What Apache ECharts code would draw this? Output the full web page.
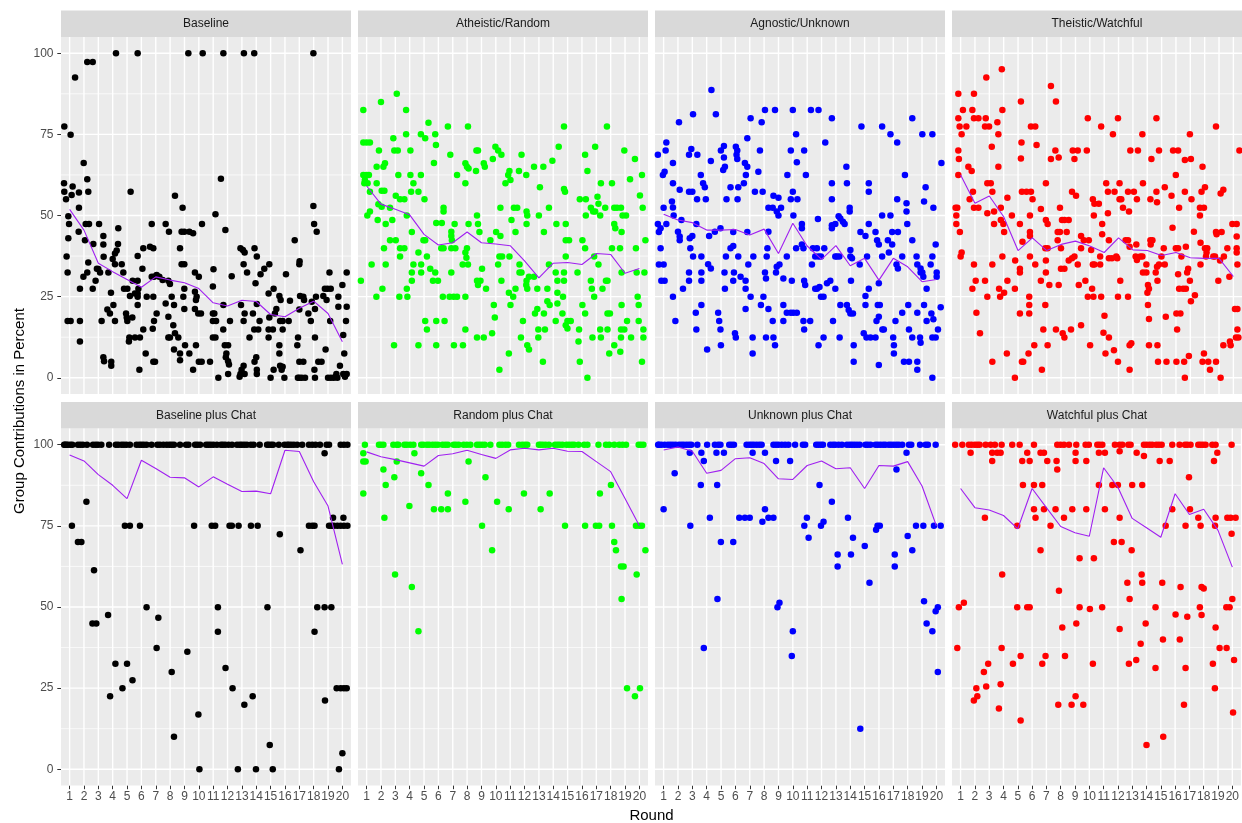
<!DOCTYPE html>
<html><head><meta charset="utf-8">
<script src="https://cdn.jsdelivr.net/npm/echarts@6/dist/echarts.min.js"></script>
<style>html,body{margin:0;padding:0;background:#fff}#c{width:1242px;height:823px}</style>
</head><body><div id="c"></div>
<script>
const rounds = [1,2,3,4,5,6,7,8,9,10,11,12,13,14,15,16,17,18,19,20];
const yTicks = [0,25,50,75,100];
const yMinor = [12.5,37.5,62.5,87.5];
const panelTitles = ['Baseline','Atheistic/Random','Agnostic/Unknown','Theistic/Watchful','Baseline plus Chat','Random plus Chat','Unknown plus Chat','Watchful plus Chat'];
const pointColors = ['#000000','#00ff00','#0000ff','#ff0000','#000000','#00ff00','#0000ff','#ff0000'];

const baselinePts = [[0.61,59.9],[0.63,57.3],[0.75,55],[1.21,58.9],[1.14,56.3],[0.63,77.4],[1.07,74.9],[1.38,92.5],[0.91,49.8],[0.96,47.4],[0.91,43],[0.79,37.4],[0.86,32.4],[0.86,17.5],[1.07,17.5],[1.72,17.5],[1.72,11.2],[1.65,52.4],[1.65,57.1],[1.63,45],[1.72,27.4],
[2.23,97.3],[2.61,97.3],[1.98,66.2],[2.23,61.2],[2.3,57.3],[2.12,47.4],[2.35,47.4],[2.07,42.4],[2.65,41.2],[2.3,35.5],[2.23,32.4],[1.96,31.1],[2.61,27.4],
[3.05,47.4],[3.0,33.5],[3.12,32.4],[2.9,33.6],[2.81,29.9],[3.23,17.5],[3.35,43.7],[3.35,41.1],[3.37,37.3],[3.35,6.3],[3.4,5.1],[3.7,32.4],
[4.23,100],[3.9,4.9],[3.9,3.7],[3.88,26.2],[3.63,21],[3.81,19.8],[4.05,22.4],[4.16,17.5],[4.0,36.6],[4.16,38.3],[4.28,39.2],[4.16,35],[4.39,46.1],[4.37,41.2],[4.63,35],[4.74,32.4],
[5.74,100],[5.25,57.3],[5.02,27.4],[4.79,27.4],[4.93,19.8],[4.98,18.6],[5.02,17.5],[5.16,12.4],[5.13,11.2],[5.2,25.2],[5.39,29.9],[5.37,18.6],[5.55,26],[5.74,29.9],[5.79,27.4],[5.74,26],[5.74,25],[5.74,37.5],[5.74,22.4],[5.55,12.4],[5.9,12.4],[5.86,2.5],[6.07,33.6],[6.13,39.9],
[6.13,14.9],[6.3,7.5],[6.37,25],[6.72,47.4],[6.6,40.4],[6.83,39.9],[6.83,25],[6.88,17.5],[6.79,15.1],[6.83,4.9],[6.95,4.9],[6.72,31.1],[6.88,31.1],[7.06,31.7],[7.06,19.8],
[7.25,31.1],[7.48,30.1],[7.69,47.4],[7.92,45],[7.69,22.9],[7.88,18.8],[7.88,12.4],[7.99,12.4],[7.99,28.9],[7.88,29.9],
[8.34,56.1],[8.11,25],[8.22,16.2],[8.27,22.4],[8.34,13.7],[8.57,12.4],[8.27,8.7],[8.69,7.5],[8.69,5.4],[8.69,39.9],[8.87,52.4],[8.8,45],[8.99,45],[8.8,35],[8.99,35],[8.92,25],[8.99,27.4],[8.99,21.2],[9.04,10],
[9.27,100],[9.34,45],[9.6,44.5],[9.34,7.5],[9.6,2.5],[9.8,10],[9.73,32.4],[10.0,31.1],[9.73,26.5],[9.85,25],[9.8,24],[9.73,21.2],[9.96,19.8],[10.15,19.8],[10.0,4.9],[10.2,4.9],
[10.27,100],[10.22,47.4],[10.78,4.9],[10.98,19.8],[11.08,19.8],[10.98,17.5],[11.2,17.5],[10.98,28.1],[11.02,33.4],[11.16,50.4],[10.98,12.4],[11.16,12.4],[11.36,0],[11.54,61.3],[11.85,45.5],[11.7,14.9],
[11.71,22.4],[11.81,10],[12.04,10],[11.92,7.5],[12.04,5.1],[12.1,4.1],[11.88,6.3],[12.04,1.2],[12.29,31.3],[12.17,17.5],
[11.71,100],[12.9,39.9],[13.07,39.4],[13.19,38.6],[13.12,35],[13.36,32.4],[12.94,22.4],[13.19,19.8],[13.12,17.5],[13.53,12.4],[13.12,3.7],[12.98,2.5],[12.9,1.2],[13.19,1.2],[12.84,0.3],[13.14,100],[13.86,100],
[13.77,19.8],[13.88,39.9],[14.04,37.4],[13.95,29.1],[14.04,22.7],[13.86,14.9],[14.14,14.9],[14.0,6.3],[13.88,4.9],[14.04,2.5],[14.04,1.2],[14.3,31.9],[14.23,17.5],
[14.56,33.6],[14.91,35],[14.86,26],[14.86,12.4],[14.86,14.9],[14.91,18.6],[15.0,0],[15.21,27.4],[15.21,2.5],[15.16,14.9],[15.4,21.2],[15.3,19.8],
[15.61,25.2],[15.7,24],[15.61,10],[15.61,7.5],[15.66,3.7],[15.77,2.5],[15.84,3.4],[15.66,17.5],[15.84,17.5],[15.84,14.9],[15.96,0],[16.07,31.9],[16.26,17.5],[16.35,23.7],
[16.68,42.4],[17.0,35],[17.02,35.9],[16.86,10],[16.91,12.4],[17.0,4.9],[17.28,4.9],[16.9,0],[17.17,0],[17.4,0],[17.0,0],[17.05,25.2],[17.28,25],[17.0,21],[17.33,24],
[17.63,19.8],[17.8,17.5],[17.87,23.4],[17.98,52.9],[18.03,47.4],[18.21,45],[18.09,12.4],[18.09,21.2],[18.16,25],[18.05,2.5],[18.09,0],[18.32,4.9],[18.55,4.9],
[17.98,100],[18.67,25.2],[18.9,24],[18.78,27.4],[18.97,27.4],[18.83,8.7],[19.0,0],[19.2,0],[19.4,0],[19.1,32.4],[19.19,27.4],[19.15,17.5],[19.58,1.2],[19.65,0],[19.53,0.3],[19.72,25],[19.72,21.9],[20.0,28.6],[20.06,13.2],[20.13,7.5],[19.83,3.7],[20.06,1.2],[20.18,0.3],[20.3,32.4],[20.3,21.9],[20.25,17.5],[20.3,1.2]];

const atheisticPts = [[0.77,82.5],[0.77,72.5],[1.0,72.5],[1.23,72.5],[0.77,62.5],[1.0,62.5],[1.16,62.5],[0.84,59.9],[1.07,59.9],[0.88,60.9],[1.23,57.3],[0.6,29.9],[1.05,50],[1.23,51.2],[1.7,65],[2.17,65],[2.28,66.1],[1.86,70],[1.7,59.9],[1.82,53.5],[2.05,52.7],[1.77,48.6],[2.05,57.6],[2.24,57.6],[2.33,47.4],[2.21,39.9],[2.33,34.9],[1.35,34.9],[1.68,25],[2.1,27.4],[2.0,85],
[2.63,52.4],[2.79,48.6],[2.63,42.4],[3.03,42.4],[2.91,10],[2.86,73.8],[2.93,70],[3.17,70],[3.21,62.5],[3.03,56.1],[3.33,55],[3.63,55],[3.1,87.5],[3.33,39.9],[3.63,39.9],[3.33,37.4],[3.28,25],[3.84,25],[3.8,27.4],[3.75,82.5],[3.75,75],
[4.05,70],[4.05,62.5],[4.26,59.9],[4.1,57.3],[4.61,57.3],[3.8,50],[4.15,44.9],[4.26,34.9],[4.15,32.4],[4.15,29.9],[4.61,38.6],[4.61,10],[4.8,34.9],[4.8,32.4],[4.78,75],[5.08,73.8],[4.78,62.5],[5.03,55],[5.08,42.4],[4.96,42.4],[5.2,37.4],[5.08,17.5],[5.2,14.9],[5.43,33.6],[5.31,78.6],
[5.78,75],[5.83,71.7],[5.69,66.2],[5.62,29.9],[5.97,29.9],[5.78,32.4],[5.85,17.5],[5.85,10],[5.85,47.7],[6.24,47.7],[6.36,52.4],[6.36,51.2],[6.2,39.9],[6.36,39.9],[6.31,25],[6.43,17.5],[6.66,77.4],[6.83,68.7],[6.9,45],[6.9,43.7],[6.94,42.4],[6.9,39.9],[7.18,39.9],[7.13,47.4],[6.78,25],[7.06,25],[7.3,25],[6.9,32.4],[7.08,10],[7.3,62.5],
[7.88,38.6],[7.99,39.9],[7.95,37],[7.69,34.9],[8.06,34.9],[7.88,25],[7.88,14.9],[7.71,10],[8.06,77.4],[7.88,66.1],[7.99,65],[8.1,64.5],[7.88,59.9],[8.1,47.4],
[8.65,70],[8.76,70],[8.62,63.7],[8.69,50],[8.76,47.4],[8.86,44.9],[8.69,29.9],[8.93,29.9],[8.76,28.6],[9.04,33.6],[9.32,27.4],[8.69,12.4],[9.16,12.4],[9.16,66.1],[9.23,65],[9.62,42.4],[9.74,13.7],[9.86,22.4],[9.93,18.6],
[9.97,71.2],[10.16,70],[10.39,68.7],[9.79,67.4],[10.02,44.9],[10.32,43.7],[10.16,34.9],[10.25,37.4],[10.44,37.4],[10.39,29.9],[10.32,52.4],[10.25,2.5],[10.67,59.9],[10.86,62.5],[10.95,63.7],[11.02,60.9],[10.95,37.4],[10.91,26.2],[11.02,22.4],[11.21,25],[10.91,7.5],[11.09,48.6],
[11.26,52.4],[11.49,52.4],[11.37,44.9],[11.65,34.9],[11.65,32.4],[11.79,32.4],[11.37,27.4],[11.61,63.7],[11.79,68.7],[11.75,12.4],[11.89,17.5],[12.12,62.5],[12.14,51.2],[12.19,50],[12.14,47.4],[12.14,29.9],[12.12,28.6],[12.19,27.4],[12.31,31.1],[12.19,10],[12.31,8.7],
[12.66,65],[12.66,31.1],[12.73,19.8],[12.89,21.2],[12.96,14.9],[12.96,12.4],[12.89,27.4],[13.07,58.7],[13.0,50],[13.31,65],[13.35,44.9],[13.28,4.9],[13.35,19.8],[13.42,14.9],[13.59,27.4],[13.59,23.6],[13.75,22.4],[13.7,52.4],[13.7,34.9],[13.94,66.9],
[14.17,32.4],[14.29,29.9],[14.29,26.2],[14.29,22.9],[14.17,17.5],[14.38,71.2],[14.22,47.4],[14.64,19.8],[14.75,77.4],[14.75,58.2],[14.82,57.3],[14.75,32.4],[14.75,29.9],[14.87,47.4],[14.87,42.4],[15.1,42.4],[14.87,37.4],[14.68,25],[14.99,17.5],[15.22,17.5],[14.87,16.2],[14.99,15.2],
[15.69,32.4],[15.85,55],[15.8,14.9],[15.76,11.2],[15.85,4.9],[16.03,42.4],[16.22,39.9],[16.03,22.4],[16.22,19.8],[16.27,55],[16.22,68.7],[16.38,63.7],[16.27,50],[16.38,0],[16.62,29.9],[16.69,27.4],[16.85,25],[16.62,52.4],[16.78,51.2],[16.92,51.2],[16.73,12.4],[16.92,71.2],[16.85,37.4],
[17.08,55.8],[17.15,53.6],[17.27,50],[17.32,59.9],[17.15,34.9],[17.27,14.9],[17.32,12.4],[17.43,27.4],[17.67,29.9],[17.78,29.9],[17.62,52.4],[17.74,77.4],[17.78,19.8],[17.95,19.8],[17.9,7.5],[17.78,14.9],
[18.09,59.9],[18.09,39.9],[18.25,52.4],[18.44,52.4],[18.72,52.4],[18.25,47.4],[18.32,46.1],[18.76,44.9],[18.25,10],[18.65,39.9],[18.67,8],[18.76,32.4],[18.76,22.4],[18.72,14.9],[18.95,14.9],[18.72,12.4],[18.83,50],[19.07,50],[18.95,70],[19.14,17.5],[19.35,61.2],[19.42,12.4],[19.69,67.4],[19.76,39.9],[19.81,32.4],[19.88,25],[19.95,22.4],[19.95,17.5],[20.04,56.2],[20.23,52.4],[20.18,62.5],[20.28,14.9],[20.28,12.4],[20.18,4.9],[20.35,32.4],[20.42,42.4]];

const agnosticPts = [[0.6,68.7],[1.19,72.5],[1.14,70],[0.95,62.5],[1.07,63.5],[1.65,66.2],[2.07,78.7],[1.65,59.9],[1.0,52.4],[1.58,54.3],[1.65,52.5],[1.7,50],[0.6,47.4],[1.19,47.4],[0.79,46.1],[0.67,44.9],[0.79,39.9],[0.67,34.9],[1.0,34.9],[0.84,29.9],[1.07,29.9],[1.65,25],[1.82,17.5],
[2.0,45],[2.12,43.5],[2.12,42.4],[2.24,48.6],[2.12,57.9],[2.35,27.4],[2.77,32.4],[2.77,29.9],[2.86,39.9],[3.05,37.4],[2.82,43],[3.0,43.7],[2.77,57.3],[3.0,57.3],[2.77,68.7],[2.93,70.5],[3.35,68.7],[3.05,81.2],[3.28,47.4],[3.33,55],[3.24,20],[3.28,14.9],
[3.59,62.5],[3.63,37.4],[3.63,32.4],[3.63,29.9],[3.63,22.4],[3.75,59.9],[3.87,58.7],[3.94,55],[4.03,8.7],[4.1,35],[4.29,33.7],[4.17,43.7],[4.33,88.7],[4.29,66.8],[4.57,45],[4.96,46.1],[4.64,81.2],[4.8,20],[4.87,17.5],[4.96,14.9],[4.99,10],
[4.99,70],[5.2,71.4],[5.2,67.9],[5.15,64],[5.27,65],[5.24,32.4],[5.27,27.4],[5.38,55],[5.34,37.4],[5.66,58.7],[5.66,39.9],[5.85,40.6],[5.85,44.9],[5.9,32.4],[5.85,29.9],[5.97,13.7],[6.03,12.4],[6.03,71.2],[6.13,70],[6.08,68.7],[6.13,67.4],[6.2,58.7],[6.15,55],[6.2,37.4],[6.36,31.1],
[6.59,59.9],[6.66,66.2],[6.83,65],[6.73,62.5],[6.83,73.8],[6.83,44.9],[6.9,34.9],[6.71,29.9],[6.71,27.4],[6.71,21.2],[7.06,25],[7.06,80],[7.2,12.4],[7.2,7.5],[7.25,37.4],[7.36,57.3],[7.6,63.5],[7.83,78.7],[7.71,70],[7.9,57.3],[7.95,25],[7.78,22.4],
[8.06,82.5],[8.06,32.4],[8.13,30.6],[8.18,37.4],[8.23,39.9],[8.3,45],[8.13,12.4],[8.65,12.4],[8.3,21.2],[8.6,17.5],[8.3,52.4],[8.6,52.4],[8.65,56.1],[9.0,55.5],[8.76,82.5],[8.76,10],[8.88,51.2],[9.0,50],[9.18,52.4],[8.88,34.2],[8.83,32.4],[9.07,34.9],[9.34,30.6],[9.34,22.4],[9.34,17.5],
[9.58,20],[9.86,20],[10.04,20],[10.28,20],[9.58,37.4],[9.62,62.5],[9.86,55],[10.0,57.3],[9.86,70],[9.93,29.9],[10.0,82.5],[10.23,75],[10.28,66.4],[10.32,55],[10.04,50],[10.23,39.9],
[10.63,47.4],[10.63,46.1],[10.63,41.1],[10.74,39.9],[10.79,70],[10.91,62.5],[10.79,29.9],[10.86,28.6],[10.74,17.5],[11.21,17.5],[10.79,14.9],[11.26,82.5],[11.79,82.5],[11.4,39.9],[11.68,39.9],[11.79,37.4],[11.96,37.4],[11.56,37.4],[11.33,34.9],[11.68,27.4],[11.86,28],[11.96,25],[12.14,25],[11.56,27.4],[11.75,48.9],[11.79,10],
[12.14,12.4],[12.26,72.5],[12.19,39.9],[12.38,29.1],[12.61,29.9],[12.72,80],[12.72,59.9],[12.72,55],[12.72,46.1],[12.72,47],[12.96,47.4],[12.96,37.4],[13.07,37.4],[13.24,37.4],[12.96,27.4],[12.8,17.5],[13.26,12.4],[13.31,22.4],
[13.19,49.8],[13.31,49.1],[13.49,48.1],[13.61,47.4],[13.73,65],[13.77,59.9],[13.77,22.4],[13.89,20.9],[14.01,19.8],[14.19,19.8],[13.96,52.4],[13.96,51.2],[14.01,37.4],[14.12,36.8],[14.01,39.4],[14.05,29.9],[14.24,10],[14.24,4.9],
[14.66,34.9],[14.78,77.4],[14.71,44.9],[14.94,13.7],[15.06,43.7],[15.06,25.2],[15.06,22.4],[15.13,12.4],[15.41,12.4],[15.76,12.4],[15.17,37.4],[15.29,59.9],[15.29,57.3],[15.29,47.4],[15.29,27.4],
[15.76,44.9],[15.87,42.4],[15.99,41.1],[15.83,17.5],[15.99,18.8],[15.99,3.9],[15.92,22.4],[16.06,22.4],[15.99,29.1],[16.22,77.4],[16.22,50],[16.22,37.4],[16.34,14.9],[16.24,14.9],
[16.62,42.4],[16.69,38.6],[16.8,75],[16.8,50],[16.92,44.9],[16.92,41.1],[16.99,12.4],[17.04,10],[17.04,7.5],[17.15,17.5],[17.27,72.5],[17.27,55],[17.22,34.9],[17.32,33.7],[17.32,44.9],[17.62,20],[17.62,37.4],[17.81,62.5],[17.92,53.8],[17.92,51.2],[17.97,47.4],[18.04,22.4],[18.09,14.9],[18.32,12.4],[18.32,42.4],[18.32,80],[17.74,4.9],[18.09,4.9],[18.67,4.9],
[18.62,37.4],[18.67,34.9],[18.9,33.7],[18.67,2.5],[18.9,32.4],[19.02,32.4],[19.09,31.1],[18.67,20],[18.86,12.4],[18.9,10.8],[19.02,75],[19.72,75],[19.14,54.3],[19.25,58.7],[19.32,27.4],[19.14,22.4],[19.32,17.5],[19.6,34.9],[19.72,37.4],[19.65,19.8],[19.79,18],[19.79,52.4],[19.72,12.4],[19.95,12.4],[19.72,0],[19.95,41.1],[20.02,32.4],[20.02,31.1],[20.11,14.9],[20.3,21.7],[20.35,66.2]];

const theisticPts = [[0.84,87.5],[0.84,80],[0.93,77.4],[1.07,75],[1.16,82.5],[1.4,77.4],[0.84,70],[0.88,67.4],[0.84,62.5],[0.65,52.4],[0.77,52.4],[0.7,50],[0.7,47.4],[0.95,44.9],[1.07,38.6],[1.0,37.4],
[1.54,65],[1.77,63.7],[1.63,55],[1.86,57.3],[1.93,87.5],[1.82,82.5],[1.93,80],[2.24,80],[1.93,52.4],[2.24,52.4],[1.93,34.9],[2.05,29.9],[1.82,27.4],[2.1,20],[2.35,13.7],
[2.75,80],[2.7,77.4],[2.98,77.4],[2.79,92.5],[2.86,59.9],[3.1,59.9],[3.21,57.3],[3.17,71.2],[2.86,50.7],[3.33,51.2],[3.33,47.4],[3.21,34.9],[2.7,29.9],[2.86,25],[3.21,4.9],
[3.56,78.7],[3.63,75],[3.63,65],[3.91,82.5],[3.87,95.1],[3.8,52.4],[3.8,48.6],[3.98,47.4],[4.03,44.9],[3.91,37.4],[3.68,27.4],[3.75,25],[4.03,26.2],[4.26,29.9],[4.26,55.5],[4.22,7.5],
[4.57,50],[4.78,27.4],[4.78,0],[4.8,36.1],[5.13,33.6],[5.13,32.4],[5.2,67.6],[5.13,47.4],[5.2,85.1],[5.24,72.5],[5.27,57.3],[5.31,41.9],[5.13,19.8],[5.27,4.9],[5.36,4.9],
[5.59,57.3],[5.9,57.3],[6.01,55],[5.78,25],[5.78,22.4],[5.78,19.8],[5.9,77.4],[6.2,77.4],[5.83,50],[5.83,44.9],[5.83,43.7],[5.83,37.4],[5.73,7.5],[6.13,10],[6.2,34.9],[6.29,71.7],
[6.59,52],[6.59,29.9],[6.66,2.5],[6.76,14.9],[6.94,59.9],[6.9,22.4],[6.94,48.6],[7.06,47.4],[6.9,39.9],[7.06,39.9],[6.94,36.1],[6.94,32.4],[7.06,10],[7.29,89.9],[7.29,67.4],[7.64,85.1],[7.6,70],[7.83,67.9],[7.18,28.6],[7.64,14.9],[7.76,42.4],[7.92,44.9],[7.76,44.9],[7.83,28.6],[7.92,52.4],
[7.99,33.6],[8.23,33.6],[7.99,39.9],[8.06,48.6],[8.23,48.6],[8.11,13.7],[8.23,12.4],[8.39,44.9],[8.53,48.6],[8.53,36.1],[8.76,36.8],[8.93,37.4],[8.69,14.9],[8.81,70],[9.16,70],[8.93,67.4],[8.76,57.3],[9.04,56.1],[9.16,34.9],[9.23,28.6],[9.39,43.7],[9.39,39.9],[9.39,16.2],[9.58,42.4],[9.69,29.9],
[9.86,80],[9.79,70],[9.93,42.4],[10.09,39.4],[10.02,10],[10.16,27.4],[10.25,25],[9.86,25],[10.21,55],[10.32,53.6],[10.28,50],[10.21,34.9],[10.32,34.9],[10.63,53.6],[10.72,37.4],[10.72,34.9],[10.79,25],[10.86,44.2],[10.86,47.4],[10.79,77.4],[10.95,13.9],[11.33,12.4],[11.02,19.1],[11.09,7.5],
[11.14,59.9],[11.26,57.3],[11.72,57.3],[11.26,50.7],[11.33,42.4],[11.33,36.8],[11.54,36.8],[11.84,37.4],[11.91,36.8],[11.61,75],[11.68,8.5],[11.96,80],[12.07,59.9],[12.07,55],[12.19,55],[11.96,25],[11.96,4.9],[12.12,29.9],[12.31,52.4],[12.49,42.4],[12.66,42.4],[12.77,40.4],[12.73,51.2],[12.66,57.3],[12.66,25],[12.82,70],[12.77,10],[12.89,10.6],[12.77,2.5],
[13.07,57.3],[13.24,41.1],[13.19,37.4],[13.28,36.3],[13.52,37.4],[13.66,37.4],[13.28,55],[13.35,70],[13.66,75],[13.7,59.9],[13.7,32.4],[13.94,32.4],[14.01,26.2],[14.05,28.6],[14.12,27.4],[13.94,34.9],[14.05,22.4],[14.12,18.1],[14.12,10],[14.71,10],[14.22,42.4],[14.36,42.4],[14.24,41.1],[14.22,55],[14.29,67.4],
[14.64,80],[14.64,57.3],[14.68,54.1],[14.68,34.2],[14.82,34.9],[14.59,32.4],[14.71,29.9],[14.75,4.9],[14.82,70],[14.99,37.4],[15.15,39.9],[15.22,34.9],[15.22,58.7],[15.29,18.8],[15.34,4.9],[16.03,4.9],
[15.69,56.1],[15.76,46.2],[15.8,70],[16.15,70],[15.99,62.5],[15.99,39.9],[16.15,39.9],[16.22,52.4],[16.03,19.8],[16.31,19.8],[16.08,14.9],[16.15,31.9],[16.22,27.4],[16.5,27.4],[16.69,27.4],[16.38,37.4],[16.57,4.9],[16.9,6.7],[16.62,0],[16.62,67.1],[17.04,67.4],[16.62,57.3],[16.69,40.4],[16.85,33.6],[16.78,32.4],[16.97,75],[17.08,55],[16.97,29.9],[17.04,23.6],[17.32,25.4],[17.25,45],
[17.67,50],[17.67,52.4],[17.95,52.4],[17.71,34.9],[17.71,41.6],[17.85,65],[17.78,57.3],[18.02,58.7],[18.02,39.9],[18.13,38.6],[18.18,39.9],[18.09,37.4],[17.95,7.5],[17.85,4.9],[18.25,4.9],[18.79,4.9],[18.37,2.5],[18.6,37.4],[18.72,37.4],
[18.79,77.4],[18.79,44.9],[18.83,44.2],[19.18,44.9],[18.95,29.9],[19.11,0],[19.11,56.8],[19.3,57.9],[19.07,36.1],[19.3,10],[19.34,37.4],[19.58,39.9],[19.76,11.2],[19.81,10],[19.72,31.1],[19.93,47.4],[20.23,47.4],[20.23,43.5],[20.23,39.9],[20.23,38.6],[20.28,34.9],[20.11,21.2],[20.28,21.2],[20.28,14.9],[20.18,12.4],[20.35,12.4],[20.42,70]];

const baselineChatPts = [[0.62,100],[0.68,100],[0.77,100],[0.88,100],[1.05,100],[1.19,100],[1.58,100],[1.75,100],[1.93,100],[2.21,100],[2.63,100],[2.82,100],[2.98,100],[3.21,100],[3.75,100],[4.22,100],[4.38,100],[4.61,100],[4.78,100],[4.96,100],[5.2,100],[5.66,100],[5.85,100],[6.01,100],[6.17,100],[6.36,100],[6.71,100],[7.11,100],[7.29,100],[7.53,100],[7.76,100],[7.95,100],[8.11,100],[8.27,100],[8.69,100],[9.11,100],[9.28,100],[9.74,100],[9.9,100],[10.09,100],[10.51,100],[10.67,100],[10.84,100],[11.02,100],[11.26,100],[11.54,100],[11.68,100],[11.84,100],[12.07,100],[12.31,100],[12.66,100],[12.85,100],[13.0,100],[13.17,100],[13.35,100],[13.63,100],[13.82,100],[14.24,100],[14.75,100],[14.87,100],[15.03,100],[15.17,100],[15.57,100],[15.97,100],[16.15,100],[16.27,100],[16.43,100],[16.62,100],[16.85,100],[17.2,100],[17.67,100],[17.9,100],[18.13,100],[18.44,100],[18.9,100],[19.07,100],[19.88,100],[20.11,100],[20.35,100],
[1.16,75],[1.58,70],[1.82,70],[2.17,82.4],[2.59,44.9],[2.86,44.9],[2.7,61.3],[3.68,47.5],[3.82,22.5],[4.19,32.5],[4.68,25],[4.85,75],[5.2,75],[5.0,32.5],[5.38,27.4],[5.9,75],[6.36,49.9],[7.18,46.7],[7.06,37.4],[8.11,30],[8.27,10],[9.2,36.2],[9.67,75],[9.97,16.9],[10.04,0],[10.9,75],[11.14,75],[11.33,49.9],[11.33,42.4],[11.86,31.2],[12.14,75],[12.3,75],[12.35,25],[12.72,0],[12.77,75],[13.17,19.9],[13.63,75],[14.1,75],[13.75,22.5],[13.98,0],[14.78,49.9],[14.94,7.5],[15.15,0],[15.64,72.4],[17.08,67.5],[17.67,75],[17.9,75],[18.06,75],[18.06,42.4],[18.25,49.9],[18.76,49.9],[19.23,49.9],[18.76,97.4],[18.79,21.2],[19.07,75],[19.23,75],[19.41,75],[19.65,75],[19.88,75],[20.11,75],[20.35,75],[19.35,77.5],[20.07,77.5],[19.6,25],[19.88,25],[20.11,25],[20.3,25],[19.76,0],[20.0,4.9]];

const randomChatPts = [[0.88,100],[1.86,100],[2.0,100],[2.17,100],[2.86,100],[3.1,100],[3.21,100],[3.63,100],[3.8,100],[4.03,100],[4.26,100],[4.8,100],[4.96,100],[5.2,100],[5.36,100],[5.59,100],[5.78,100],[5.97,100],[6.29,100],[6.48,100],[6.66,100],[7.06,100],[7.22,100],[7.41,100],[7.76,100],[7.99,100],[8.23,100],[8.69,100],[8.86,100],[9.04,100],[9.23,100],[9.62,100],[10.25,100],[10.44,100],[10.67,100],[10.86,100],[11.61,100],[11.84,100],[12.03,100],[12.19,100],[13.0,100],[13.12,100],[13.28,100],[13.47,100],[13.7,100],[14.12,100],[14.29,100],[14.45,100],[14.64,100],[14.92,100],[15.1,100],[15.29,100],[15.45,100],[15.76,100],[16.15,100],[16.38,100],[17.15,100],[17.67,100],[17.9,100],[18.25,100],[18.6,100],[18.83,100],[19.07,100],[19.95,100],[20.11,100],[20.28,100],
[0.77,97.4],[0.77,94.8],[0.93,94.8],[0.77,85],[2.17,92.4],[2.33,87.6],[2.24,77.5],[3.1,94.8],[2.93,90],[2.98,60],[4.33,97.4],[3.98,81.1],[4.15,56.2],[4.61,42.5],[4.8,91.2],[5.31,87.6],[5.69,80.1],[6.2,80.1],[6.66,80.1],[6.66,85],[7.88,82.4],[8.1,94.8],[9.04,75],[9.28,90],[9.74,67.5],[10.09,82.4],[10.9,80.1],[11.96,85],[13.12,80.1],[13.75,85],[14.82,75],[16.22,75],[16.97,75],[17.2,75],[17.25,85],[18.02,87.6],[18.09,75],[18.25,70],[18.37,67.5],[18.72,62.5],[18.9,62.5],[18.76,52.5],[19.14,25],[19.69,22.5],[20.04,25],[19.81,60],[19.76,75],[20.0,75],[20.18,75],[20.42,67.5]];

const unknownChatPts = [[0.62,100],[0.67,100],[0.84,100],[1.07,100],[1.3,100],[1.47,100],[1.65,100],[1.84,100],[2.07,100],[2.24,100],[2.4,100],[2.59,100],[2.77,100],[2.93,100],[3.35,100],[4.03,100],[4.57,100],[4.8,100],[4.96,100],[5.57,100],[5.73,100],[5.9,100],[6.78,100],[6.97,100],[7.13,100],[7.29,100],[7.48,100],[7.67,100],[7.83,100],[8.65,100],[8.83,100],[9.0,100],[9.23,100],[9.46,100],[9.69,100],[10.16,100],[10.7,100],[10.86,100],[11.63,100],[11.79,100],[11.96,100],[12.1,100],[12.61,100],[12.8,100],[12.96,100],[13.19,100],[13.42,100],[13.77,100],[13.96,100],[14.12,100],[14.29,100],[14.47,100],[14.66,100],[15.06,100],[15.22,100],[15.41,100],[15.76,100],[15.92,100],[16.1,100],[16.29,100],[16.45,100],[16.69,100],[16.85,100],[17.04,100],[17.22,100],[17.39,100],[17.62,100],[18.09,100],[18.25,100],[18.86,100],[19.25,100],[19.41,100],[19.95,100],
[1.0,80.1],[1.77,91.2],[2.82,97.5],[2.86,75],[3.63,97.5],[3.8,95],[3.59,87.6],[4.22,77.5],[3.8,37.4],[4.68,97.5],[5.2,97.5],[4.73,87.6],[4.99,70],[4.75,52.5],[5.85,70],[6.27,77.5],[6.66,77.5],[7.0,77.5],[7.2,97.5],[8.06,97.5],[8.06,80.1],[7.88,76.3],[8.3,77.5],[8.65,77.5],[8.83,95],[8.93,49.9],[9.07,51.3],[9.81,95],[10.0,42.5],[9.93,34.9],[10.8,75],[10.98,77.5],[11.1,71.3],[11.86,87.6],[11.96,75],[12.14,76.3],[12.72,82.4],[13.12,66.2],[13.12,62.5],[13.84,77.5],[14.19,71.3],[14.05,66.2],[14.7,12.5],[15.01,68.8],[15.34,57.5],[15.8,73.8],[15.9,75],[16.06,75],[17.22,92.4],[17.1,66.2],[17.1,62.5],[17.92,97.5],[18.0,71.9],[18.32,67.5],[18.58,75],[19.09,75],[19.14,51.8],[19.32,44.9],[19.72,42.5],[19.83,75],[20.3,75],[19.95,48.7],[20.1,49.9],[20.1,30]];

const watchfulChatPts = [[0.62,100],[1.12,100],[1.58,100],[1.77,100],[2.0,100],[2.17,100],[2.33,100],[2.75,100],[3.1,100],[3.4,100],[3.87,100],[4.61,100],[5.13,100],[6.13,100],[7.76,100],[7.99,100],[8.23,100],[8.58,100],[9.09,100],[9.74,100],[9.97,100],[10.56,100],[10.72,100],[10.91,100],[11.79,100],[12.12,100],[12.31,100],[12.73,100],[12.89,100],[13.82,100],[14.01,100],[14.22,100],[14.4,100],[14.68,100],[14.87,100],[15.06,100],[15.8,100],[16.31,100],[16.69,100],[16.85,100],[17.08,100],[17.62,100],[17.78,100],[17.95,100],[18.13,100],[18.6,100],[18.83,100],[19.95,100],
[1.7,97.5],[3.21,97.5],[3.56,97.5],[3.8,97.5],[3.21,95],[5.66,97.5],[5.31,95],[5.83,95],[5.36,87.6],[6.13,87.6],[6.71,87.6],[6.59,97.5],[6.83,97.5],[7.06,95],[7.71,95],[7.76,92.4],[6.13,80.1],[7.64,80.1],[6.83,80.1],[6.24,77.5],[7.29,75],[6.59,67.5],[4.96,75],[2.7,77.5],[8.23,77.5],[8.81,80.1],[9.04,97.5],[9.04,95],[9.79,95],[9.79,80.1],[9.32,65],[10.32,65],[10.67,97.5],[11.09,97.5],[10.67,87.6],[11.61,87.6],[12.0,87.6],[11.09,80.1],[11.72,70],[12.26,70],[12.12,77.5],[12.12,98],[12.96,67.5],[13.0,87.6],[13.7,87.6],[13.31,97.5],[13.82,96.5],[14.92,95],[15.62,95],[15.34,75],[15.8,80.1],[16.73,75],[16.97,90],[17.04,80.1],[17.62,77.5],[17.78,75],[18.72,95],[18.95,97.5],[18.83,77.5],[18.79,75],[19.65,77.5],[19.88,77.5],[20.23,77.5],[19.95,72.6],
[0.88,49.9],[1.23,51.3],[0.77,37.4],[1.93,21.2],[2.17,22.5],[2.1,25],[2.63,30],[2.93,32.5],[2.79,25.5],[3.68,18.7],[3.8,26.2],[3.87,37.4],[3.91,60],[4.66,32.5],[4.96,49.9],[5.2,34.9],[5.2,15],[5.66,49.9],[5.83,49.9],[6.71,32.5],[6.94,34.9],[7.83,19.9],[7.88,55],[8.11,43.7],[8.3,34.9],[8.76,19.9],[9.04,22.5],[9.09,44.9],[9.32,49.9],[9.58,19.9],[10.04,49.4],[10.25,32.5],[10.9,49.9],[12.12,43.2],[12.66,57.5],[12.82,52.5],[12.77,32.5],[13.28,33.7],[13.66,60],[13.7,57.5],[13.59,38.7],[13.94,44.9],[14.0,7.5],[14.63,49.9],[14.63,31.2],[15.1,57.5],[15.15,40],[15.17,10],[16.03,47.7],[16.33,40],[16.38,56.2],[16.62,19.9],[16.73,31.2],[16.85,47],[17.73,49.9],[17.85,47.5],[17.85,56.2],[18.0,55.7],[18.64,32.5],[18.78,25],[18.83,43.7],[19.11,37.4],[19.6,37.4],[19.58,49.9],[19.81,49.9],[20.0,52.5],[20.12,33.7],[20.05,17.5]];

const baselineMean     = [51.9,45.5,35.3,32.7,30.3,27.9,31.1,30.1,29.3,27.5,23.1,22.1,23.9,23.5,19.5,18.8,21.4,23.6,19.8,11.1];
const atheisticMean    = [59.1,53.5,51.9,50.2,44.2,40.9,41.6,44.9,41.6,41.2,40.7,36.0,30.8,35.3,35.5,34.9,38.3,38.0,32.2,33.7];
const agnosticMean     = [50.4,48.6,47.8,45.5,45.5,45.7,44.0,45.8,38.3,47.6,40.6,36.5,40.7,34.5,36.8,30.1,36.8,34.2,29.6,30.3];
const theisticMean     = [62.5,53.8,56.0,49.6,39.2,43.1,39.2,41.1,42.1,40.6,38.6,43.1,39.4,39.2,37.7,38.6,37.0,36.8,36.8,31.2];
const baselineChatMean = [96.8,95.0,90.8,87.5,83.4,95.2,92.7,90.0,89.8,87.0,90.1,87.8,85.6,85.7,84.9,98.3,97.9,88.6,81.1,63.1];
const randomChatMean   = [97.8,96.3,95.4,94.4,93.4,96.7,97.2,98.3,97.0,95.8,98.4,98.9,98.4,98.9,98.0,97.9,94.8,91.7,83.4,75.0];
const unknownChatMean  = [98.4,99.3,98.0,91.2,92.1,95.7,96.0,94.2,89.5,89.3,93.6,95.0,92.6,92.9,86.5,93.6,93.4,94.8,87.3,75.0];
const watchfulChatMean = [86.5,80.6,79.9,78.2,74.1,86.5,80.6,74.8,72.9,71.8,92.9,86.9,77.3,74.4,71.5,84.9,78.5,80.1,73.6,62.3];

const pointSets = [baselinePts, atheisticPts, agnosticPts, theisticPts, baselineChatPts, randomChatPts, unknownChatPts, watchfulChatPts];
const meanSets = [baselineMean, atheisticMean, agnosticMean, theisticMean, baselineChatMean, randomChatMean, unknownChatMean, watchfulChatMean];

const FONT = '"Liberation Sans", Arial, Helvetica, sans-serif';
const X_MIN = 0.4, X_MAX = 20.6, Y_MIN = -5, Y_MAX = 105;
const colLeft = [61, 358, 655, 952];
const rowTop = [37, 428.5];
const W = 290, H = 357, STRIP = 26.5;

// gridline paths built from tick values (broken by empty points)
function hLines(vals) { const d = []; vals.forEach(v => { d.push([X_MIN, v], [X_MAX, v], ['-', '-']); }); return d; }
function vLines(vals) { const d = []; vals.forEach(v => { d.push([v, Y_MIN], [v, Y_MAX], ['-', '-']); }); return d; }

const grid = [], xAxis = [], yAxis = [], series = [], graphic = [];
panelTitles.forEach((title, i) => {
  const r = Math.floor(i / 4), c = i % 4;
  const L = colLeft[c], T = rowTop[r];
  grid.push({left: L, top: T, width: W, height: H, show: true, backgroundColor: '#ebebeb', borderWidth: 0});
  xAxis.push({
    type: 'value', gridIndex: i, min: X_MIN, max: X_MAX, position: 'bottom',
    axisLine: {show: false, onZero: false}, splitLine: {show: false}, minorTick: {show: false},
    axisTick: {show: r === 1, customValues: rounds, length: 3.7, lineStyle: {color: '#333333', width: 1}},
    axisLabel: {show: r === 1, customValues: rounds, margin: 5.5, fontSize: 12, color: '#4d4d4d', fontFamily: FONT}
  });
  yAxis.push({
    type: 'value', gridIndex: i, min: Y_MIN, max: Y_MAX, position: 'left',
    axisLine: {show: false, onZero: false}, splitLine: {show: false}, minorTick: {show: false},
    axisTick: {show: c === 0, customValues: yTicks, length: 3.7, lineStyle: {color: '#333333', width: 1}},
    axisLabel: {show: c === 0, customValues: yTicks, margin: 7.5, fontSize: 12, color: '#4d4d4d', fontFamily: FONT}
  });
  const gl = {type: 'line', xAxisIndex: i, yAxisIndex: i, symbol: 'none', showSymbol: false, silent: true, z: 1,
    connectNulls: false, animation: false, emphasis: {disabled: true}};
  series.push(Object.assign({}, gl, {data: hLines(yMinor), lineStyle: {color: '#ffffff', width: 0.7}}));
  series.push(Object.assign({}, gl, {data: hLines(yTicks), lineStyle: {color: '#ffffff', width: 1.4}}));
  series.push(Object.assign({}, gl, {data: vLines(rounds), lineStyle: {color: '#ffffff', width: 1.4}}));
  series.push({
    type: 'scatter', xAxisIndex: i, yAxisIndex: i, data: pointSets[i],
    symbolSize: 6.5, itemStyle: {color: pointColors[i], opacity: 1}, z: 3, silent: true
  });
  series.push({
    type: 'line', xAxisIndex: i, yAxisIndex: i,
    data: rounds.map((x, k) => [x, meanSets[i][k]]),
    symbol: 'none', showSymbol: false, lineStyle: {color: '#a020f0', width: 1.1}, z: 4, silent: true
  });
  graphic.push({type: 'rect', silent: true, shape: {x: L, y: T - STRIP, width: W, height: STRIP}, style: {fill: '#d9d9d9'}});
  graphic.push({type: 'text', silent: true, x: L + W / 2, y: T - STRIP / 2,
    style: {text: title, fill: '#1a1a1a', font: '12px ' + FONT, align: 'center', verticalAlign: 'middle', textAlign: 'center', textVerticalAlign: 'middle'}});
});
graphic.push({type: 'text', silent: true, x: 651.5, y: 816,
  style: {text: 'Round', fill: '#000000', font: '15px ' + FONT, align: 'center', verticalAlign: 'middle', textAlign: 'center', textVerticalAlign: 'middle'}});
graphic.push({type: 'text', silent: true, x: 20, y: 411, rotation: Math.PI / 2,
  style: {text: 'Group Contributions in Percent', fill: '#000000', font: '15px ' + FONT, align: 'center', verticalAlign: 'middle', textAlign: 'center', textVerticalAlign: 'middle'}});

const chart = echarts.init(document.getElementById('c'), null, {renderer: 'canvas'});
chart.setOption({animation: false, backgroundColor: '#ffffff', grid, xAxis, yAxis, series, graphic});
</script>
</body></html>
